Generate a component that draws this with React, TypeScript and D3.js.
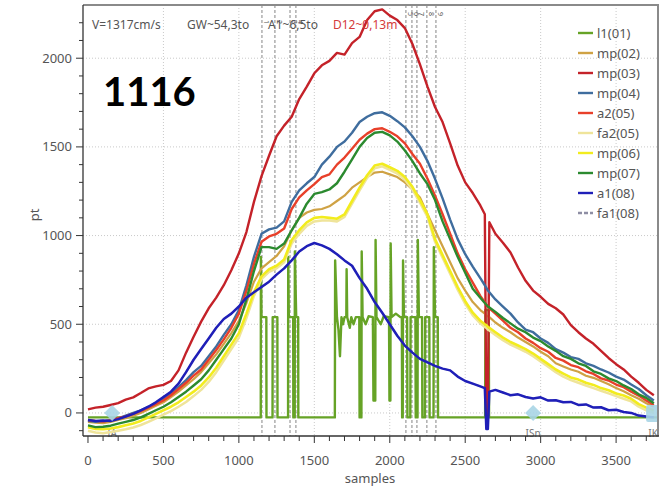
import React from 'react';
import * as d3 from 'd3';

const W = 667;
const H = 488;
const plot = { left: 83, right: 657, top: 5, bottom: 436 };

// Sample positions shared by all continuous channels (dense around the dropout near 2640)
const samples: number[] = [...d3.range(0, 2601, 50), 2630, 2640, 2650, 2660, ...d3.range(2700, 3751, 50)];

const mp03: number[] = [
  20, 30, 35, 45, 55, 75, 88, 112, 138, 150,
  158, 180, 240, 340, 430, 515, 590, 650, 720, 805,
  900, 1020, 1190, 1335, 1450, 1560, 1620, 1670, 1770, 1840,
  1915, 1960, 1985, 2030, 2020, 2085, 2120, 2215, 2265, 2275,
  2240, 2215, 2170, 2080, 1965, 1840, 1725, 1640, 1520, 1395,
  1300, 1240, 1170,
  1120, -20, -20, 1075,
  1010, 960, 905, 820, 745, 690, 655, 615, 590, 555, 495, 455, 420, 390, 350, 310, 275, 245, 205, 170, 130, 100,
];

const mp04: number[] = [
  -45, -50, -48, -40, -30, -15, 0, 15, 35, 55,
  80, 110, 145, 185, 230, 265, 320, 375, 440, 500,
  580, 720, 880, 1010, 1035, 1045, 1080, 1190, 1255, 1295,
  1330, 1400, 1445, 1500, 1530, 1580, 1640, 1670, 1690, 1695,
  1675, 1645, 1610, 1560, 1500, 1420, 1320, 1210, 1090, 980,
  895, 825, 760,
  720, 705, 690, 680,
  640, 600, 560, 510, 470, 455, 420, 395, 360, 340, 315, 305, 280, 265, 245, 228, 205, 188, 160, 135, 100, 70,
];

const a2: number[] = [
  -40, -45, -48, -42, -30, -20, -5, 10, 30, 50,
  70, 100, 135, 170, 210, 245, 300, 355, 415, 480,
  560, 690, 840, 965, 995, 1010, 1040, 1150, 1215, 1255,
  1290, 1330, 1345, 1400, 1440, 1490, 1540, 1575, 1600, 1605,
  1585, 1560, 1520, 1460, 1405, 1320, 1225, 1120, 1010, 900,
  810, 735, 660,
  625, 610, 600, 590,
  560, 520, 480, 455, 420, 395, 365, 345, 310, 295, 270, 258, 235, 220, 195, 183, 160, 145, 120, 98, 70, 45,
];

const mp07: number[] = [
  -70, -80, -78, -72, -60, -50, -40, -25, -5, 15,
  35, 60, 90, 120, 155, 190, 240, 300, 360, 420,
  500, 640, 800, 935, 935, 925, 955, 1030, 1100, 1180,
  1235, 1245, 1260, 1295, 1360, 1430, 1500, 1550, 1580, 1585,
  1565, 1530, 1480, 1420, 1350, 1290, 1200, 1080, 980, 880,
  790, 700, 650,
  620, 610, 600, 595,
  570, 535, 505, 475, 455, 425, 405, 375, 350, 320, 305, 280, 265, 235, 220, 195, 180, 155, 135, 105, 85, 55,
];

const mp02: number[] = [
  -50, -55, -58, -50, -40, -30, -15, 0, 20, 40,
  60, 90, 120, 155, 190, 230, 280, 330, 390, 450,
  520, 620, 740, 815, 850, 885, 940, 1030, 1100, 1130,
  1145, 1150, 1165, 1195, 1225, 1270, 1300, 1330, 1355, 1360,
  1345, 1330, 1300, 1260, 1215, 1120, 1030, 940, 850, 760,
  690, 625, 580,
  560, 550, 545, 540,
  510, 480, 455, 425, 400, 375, 345, 320, 280, 262, 245, 232, 210, 198, 180, 162, 140, 122, 100, 80, 55, 35,
];

const mp06: number[] = [
  -80, -90, -92, -88, -80, -70, -60, -45, -25, -5,
  15, 35, 60, 90, 120, 155, 200, 255, 320, 385,
  450, 560, 680, 770, 810, 830, 865, 975, 1030, 1075,
  1100, 1105, 1100, 1095, 1120, 1195, 1270, 1340, 1395, 1405,
  1385, 1365, 1330, 1275, 1200, 1120, 980, 890, 800, 710,
  630, 565, 520,
  500, 495, 485, 480,
  455, 425, 400, 380, 360, 335, 305, 275, 245, 222, 200, 188, 170, 158, 140, 128, 110, 98, 80, 50, 30, 15,
];

const fa2: number[] = [
  -100, -110, -115, -108, -100, -92, -82, -68, -50, -30,
  -10, 10, 35, 62, 95, 130, 175, 230, 295, 360,
  425, 535, 660, 755, 795, 815, 850, 955, 1010, 1055,
  1080, 1085, 1085, 1080, 1105, 1180, 1255, 1325, 1380, 1390,
  1370, 1350, 1315, 1260, 1185, 1105, 965, 875, 785, 695,
  615, 550, 505,
  485, 480, 470, 465,
  440, 410, 385, 365, 345, 320, 290, 260, 230, 205, 185, 170, 155, 140, 125, 110, 95, 80, 65, 35, 15, 0,
];

const a1: number[] = [
  -40, -45, -42, -45, -35, -20, -5, 15, 35, 60,
  90, 120, 165, 230, 300, 360, 420, 480, 530, 560,
  600, 650, 680, 710, 740, 780, 815, 860, 910, 940,
  958, 945, 925, 895, 860, 830, 760, 700, 625, 565,
  500, 435, 380, 340, 305, 285, 265, 250, 240, 205,
  180, 165, 150,
  140, -90, -90, 120,
  130, 115, 100, 105, 90, 82, 88, 70, 72, 60, 62, 45, 48, 30, 32, 15, 18, 5, 0, -15, -20, -25,
];

// fa1 shares the a1 trace
const fa1: number[] = a1;

// l1 is a gated step signal: its own sample/value breakpoints
const l1Samples: number[] = [
  0, 1145, 1146, 1150, 1182, 1183, 1223, 1224, 1255, 1256,
  1326, 1327, 1331, 1360, 1361, 1370, 1371, 1380, 1393, 1394,
  1636, 1638, 1650, 1660, 1670, 1680, 1690, 1700, 1712, 1714,
  1718, 1735, 1745, 1760, 1775, 1798, 1800, 1812, 1814, 1820,
  1840, 1860, 1888, 1892, 1904, 1906, 1912, 1940, 1960, 1995,
  1998, 2004, 2006, 2012, 2040, 2070, 2080, 2082, 2086, 2088,
  2094, 2115, 2117, 2136, 2138, 2170, 2172, 2184, 2186, 2193,
  2214, 2216, 2233, 2235, 2262, 2264, 2290, 2292, 2300, 2318,
  2320, 2632, 2634, 2656, 2658, 3771,
];
const l1Values: number[] = [
  -25, -25, 880, 540, 540, -25, -25, 540, 540, -25,
  -25, 880, 540, 540, -25, -25, 910, 540, 540, -25,
  -25, 860, 540, 470, 320, 540, 500, 540, 540, 810,
  540, 480, 540, 500, 540, 540, -25, -25, 910, 540,
  500, 545, 540, 70, 70, 975, 540, 500, 545, 540,
  70, 70, 955, 540, 560, 540, 540, -25, -25, 860,
  540, 540, -25, -25, 540, 540, -25, -25, 975, 540,
  540, -25, -25, 540, 540, -25, -25, 935, 540, 540,
  -25, -25, 580, 580, -25, -25,
];

const legendNames: string[] = ['l1(01)', 'mp(02)', 'mp(03)', 'mp(04)', 'a2(05)', 'fa2(05)', 'mp(06)', 'mp(07)', 'a1(08)', 'fa1(08)'];
const legendColors: string[] = ['#66a326', '#cfa244', '#c42229', '#3f6d9e', '#e8402a', '#efe49a', '#f2ec1e', '#2b8a2f', '#1f1fb8', '#8e8ea4'];

const xTicks: number[] = [0, 500, 1000, 1500, 2000, 2500, 3000, 3500];
const yTicks: number[] = [0, 500, 1000, 1500, 2000];
const markerLines: number[] = [1153, 1239, 1339, 1378, 2107, 2147, 2180, 2246, 2306];
const markerTags: string[] = ['1', '2', '3', '4', '5', '6', '7', '8', '9'];
const eventSamples: number[] = [160, 2950];
const eventLabels: string[] = ['IA', 'ISn', 'IK'];
const eventLabelSamples: number[] = [160, 2950, 3745];

const font = '"Noto Sans", "DejaVu Sans", sans-serif';

export default function App() {
  const x = d3.scaleLinear().domain([-33, 3771]).range([plot.left, plot.right]);
  const y = d3.scaleLinear().domain([-130, 2300]).range([plot.bottom, plot.top]);

  const trace = d3
    .line<number>()
    .x((_, i) => x(samples[i]))
    .y((d) => y(d));
  const stepTrace = d3
    .line<number>()
    .x((_, i) => x(l1Samples[i]))
    .y((d) => y(d));

  // draw order: bottom first
  const series: { values: number[]; color: string; width: number; dash?: string }[] = [
    { values: fa1, color: legendColors[9], width: 1.5, dash: '4,2' },
    { values: mp02, color: legendColors[1], width: 2.2 },
    { values: mp03, color: legendColors[2], width: 2.4 },
    { values: mp04, color: legendColors[3], width: 2.4 },
    { values: a2, color: legendColors[4], width: 2.4 },
    { values: fa2, color: legendColors[5], width: 2.5 },
    { values: mp06, color: legendColors[6], width: 2.6 },
    { values: mp07, color: legendColors[7], width: 2.4 },
    { values: a1, color: legendColors[8], width: 2.5 },
  ];

  const xMinor = d3.range(0, 3771, 100);
  const yMinor = d3.range(-100, 2300, 100);

  return (
    <svg width={W} height={H} style={{ position: 'absolute', left: 0, top: 0, background: '#fff' }} fontFamily={font}>
      <defs>
        <clipPath id="plotClip">
          <rect x={plot.left} y={plot.top} width={plot.right - plot.left} height={plot.bottom - plot.top} />
        </clipPath>
      </defs>

      {/* grid */}
      {xTicks.filter((t) => t > 0).map((t) => (
        <line key={'gx' + t} x1={x(t)} x2={x(t)} y1={plot.top} y2={plot.bottom} stroke="#c9c9c9" strokeDasharray="1,2" />
      ))}
      {yTicks.map((t) => (
        <line key={'gy' + t} x1={plot.left} x2={plot.right} y1={y(t)} y2={y(t)} stroke="#c9c9c9" strokeDasharray="1,2" />
      ))}

      {/* event marker lines */}
      {markerLines.map((m) => (
        <line key={'ml' + m} x1={x(m)} x2={x(m)} y1={plot.top} y2={plot.bottom} stroke="#666" strokeWidth={0.8} strokeDasharray="3,2" />
      ))}

      {/* event labels near the bottom */}
      {eventLabels.map((lab, i) => (
        <text key={'el' + lab} x={x(eventLabelSamples[i])} y={437} fontSize={10} fill="#777" textAnchor="middle">
          {lab}
        </text>
      ))}

      <g clipPath="url(#plotClip)">
        <path d={stepTrace(l1Values) ?? ''} fill="none" stroke={legendColors[0]} strokeWidth={2.4} strokeLinejoin="round" />
        {series.map((s, i) => (
          <path
            key={'s' + i}
            d={trace(s.values) ?? ''}
            fill="none"
            stroke={s.color}
            strokeWidth={s.width}
            strokeDasharray={s.dash}
            strokeLinejoin="round"
          />
        ))}
        {eventSamples.map((e) => {
          const cx = x(e);
          const cy = y(0);
          return <path key={'d' + e} d={`M${cx},${cy - 8} L${cx + 8},${cy} L${cx},${cy + 8} L${cx - 8},${cy} Z`} fill="#a9d5e6" opacity={0.9} />;
        })}
        <rect x={x(3745) - 7} y={y(0) - 8} width={16} height={17} rx={2} fill="#a9d5e6" opacity={0.9} />
      </g>

      {/* frame */}
      <line x1={plot.left} x2={plot.right + 2} y1={plot.top} y2={plot.top} stroke="#8a8a8a" strokeWidth={2} />
      <line x1={plot.right + 1} x2={plot.right + 1} y1={plot.top} y2={plot.bottom} stroke="#8a8a8a" strokeWidth={2} />
      <line x1={plot.left} x2={plot.left} y1={plot.top} y2={plot.bottom} stroke="#333" strokeWidth={1.3} />
      <line x1={plot.left} x2={plot.right + 2} y1={plot.bottom} y2={plot.bottom} stroke="#333" strokeWidth={1.3} />

      {/* x axis ticks */}
      {xMinor.map((t) => (
        <line key={'xm' + t} x1={x(t)} x2={x(t)} y1={plot.bottom} y2={plot.bottom + (t % 500 === 0 ? 7 : 5)} stroke="#333" strokeWidth={1} />
      ))}
      {xTicks.map((t) => (
        <text key={'xl' + t} x={x(t)} y={465} fontSize={13} fill="#555" textAnchor="middle">
          {t}
        </text>
      ))}
      <text x={370} y={483} fontSize={13} fill="#555" textAnchor="middle">
        samples
      </text>

      {/* y axis ticks */}
      {yMinor.map((t) => (
        <line key={'ym' + t} x1={plot.left - (t % 500 === 0 ? 7 : 4)} x2={plot.left} y1={y(t)} y2={y(t)} stroke="#333" strokeWidth={1} />
      ))}
      {yTicks.map((t) => (
        <text key={'yl' + t} x={72} y={y(t) + 4.5} fontSize={13} fill="#555" textAnchor="end">
          {t}
        </text>
      ))}
      <text transform="translate(39,215) rotate(-90)" fontSize={13} fill="#555" textAnchor="middle">
        pt
      </text>

      {/* header annotations */}
      <text x={92} y={29} fontSize={12} fill="#555">V=1317cm/s</text>
      <text x={187} y={29} fontSize={12} fill="#555">GW~54,3to</text>
      <text x={268} y={29} fontSize={12} fill="#555">A1~6,5to</text>
      <text x={333} y={29} fontSize={12} fill="#d43a3a">D12~0,13m</text>
      {markerLines.map((m, i) => (
        <text key={'mt' + m} transform={`translate(${x(m) + 2},${i < 4 ? 20 : 12}) rotate(90)`} fontSize={7} fill="#555">
          {markerTags[i]}
        </text>
      ))}

      <text x={103} y={106} fontSize={40} fontWeight="bold" fill="#000" fontFamily='Lato, "Open Sans", sans-serif'>
        1116
      </text>

      {/* legend */}
      {legendNames.map((n, i) => (
        <g key={'lg' + n} transform={`translate(578,${33 + i * 20})`}>
          <line x1={0} x2={15} y1={0} y2={0} stroke={legendColors[i]} strokeWidth={2.4} strokeDasharray={i === 9 ? '4,2' : undefined} />
          <text x={19} y={4.5} fontSize={13} fill="#555">
            {n}
          </text>
        </g>
      ))}
    </svg>
  );
}
